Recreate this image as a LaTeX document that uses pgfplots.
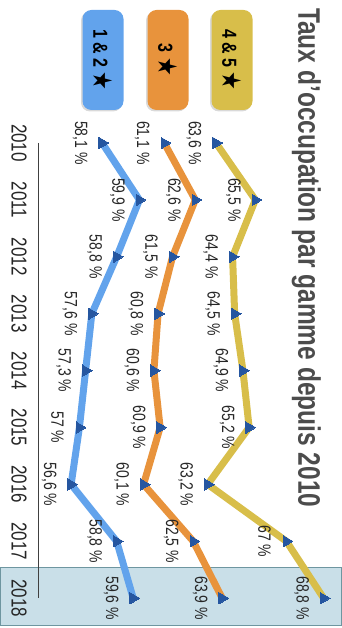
\documentclass[border=0pt]{standalone}
\usepackage{pgfplots}
\pgfplotsset{compat=1.18}
\usepackage{graphicx}
\usepackage{fontspec}
\setmainfont{Liberation Sans}
\newfontfamily\dejavu{DejaVu Sans}
\usetikzlibrary{shadows}
\definecolor{cyel}{RGB}{216,190,74}
\definecolor{cora}{RGB}{232,147,60}
\definecolor{cblu}{RGB}{98,163,236}
\definecolor{cmark}{RGB}{37,86,160}
\definecolor{hlfill}{RGB}{201,223,232}
\definecolor{hldraw}{RGB}{110,150,160}
\newcommand\rt[1]{\rotatebox{-90}{\scalebox{1}[1.27]{#1}}}
\begin{document}
\begin{tikzpicture}[x=1pt,y=1pt]
\fill[hlfill] (0,2) rectangle (342,60);
\draw[hldraw, line width=1pt] (0.5,2.5) rectangle (341.5,60);
\begin{axis}[at={(38pt,0pt)}, anchor=south west, scale only axis,
  width=304pt, height=628pt,
  xmin=55, xmax=69.686, ymin=2007.487, ymax=2018.524, y dir=reverse,
  axis line style={draw=none}, xtick=\empty,
  ytick={2010,2011,2012,2013,2014,2015,2016,2017,2018},
  yticklabels={\rt{2010},\rt{2011},\rt{2012},\rt{2013},\rt{2014},\rt{2015},\rt{2016},\rt{2017},\rt{2018}},
  major tick length=0pt,
  /pgf/number format/assume math mode=true,
  yticklabel style={anchor=center, xshift=-19pt, font=\fontsize{17}{17}\selectfont, text=black!85},
  clip=false,
  every axis plot/.append style={line width=7pt, line join=round, mark=triangle*, mark size=6.5pt,
     mark options={rotate=-90, fill=cmark, draw=cmark, line width=0pt}},
  point meta=x,
  nodes near coords={\rt{\pgfmathprintnumber[use comma, assume math mode=true]{\pgfplotspointmeta}~\%}},
  every node near coord/.append style={anchor=center, xshift=-22pt, font=\fontsize{14}{14}\selectfont, text=black!85},
]
\draw[black!75, line width=1pt] (axis cs:55,2010) -- (axis cs:55,2018);
\addplot[cyel] coordinates {(63.6,2010) (65.5,2011) (64.4,2012) (64.5,2013) (64.9,2014) (65.2,2015) (63.2,2016) (67,2017) (68.8,2018)};
\addplot[cora] coordinates {(61.1,2010) (62.6,2011) (61.5,2012) (60.8,2013) (60.6,2014) (60.9,2015) (60.1,2016) (62.5,2017) (63.9,2018)};
\addplot[cblu] coordinates {(58.1,2010) (59.9,2011) (58.8,2012) (57.6,2013) (57.3,2014) (57,2015) (56.6,2016) (58.8,2017) (59.6,2018)};
\end{axis}
\node[inner sep=0pt, anchor=north east, text=black!70] at (321,620)
  {\fontsize{24.5}{24.5}\selectfont\bfseries\rt{Taux d’occupation par gamme depuis 2010}};
\tikzset{lg/.style={fill=#1, rounded corners=9pt, minimum width=41pt, minimum height=100pt, inner sep=0pt,
   drop shadow={shadow xshift=-1.5pt, shadow yshift=-1.5pt, opacity=0.3}}}
\node[lg=cyel] at (232,568) {\fontsize{16}{16}\selectfont\bfseries\rt{4 \& 5 {\dejavu\fontsize{21}{21}\selectfont ★}}};
\node[lg=cora] at (168,568) {\fontsize{16}{16}\selectfont\bfseries\rt{3 {\dejavu\fontsize{21}{21}\selectfont ★}}};
\node[lg=cblu] at (103,568) {\fontsize{16}{16}\selectfont\bfseries\rt{1 \& 2 {\dejavu\fontsize{21}{21}\selectfont ★}}};
\pgfresetboundingbox
\path[use as bounding box] (0,0) rectangle (342,628);
\end{tikzpicture}
\end{document}
